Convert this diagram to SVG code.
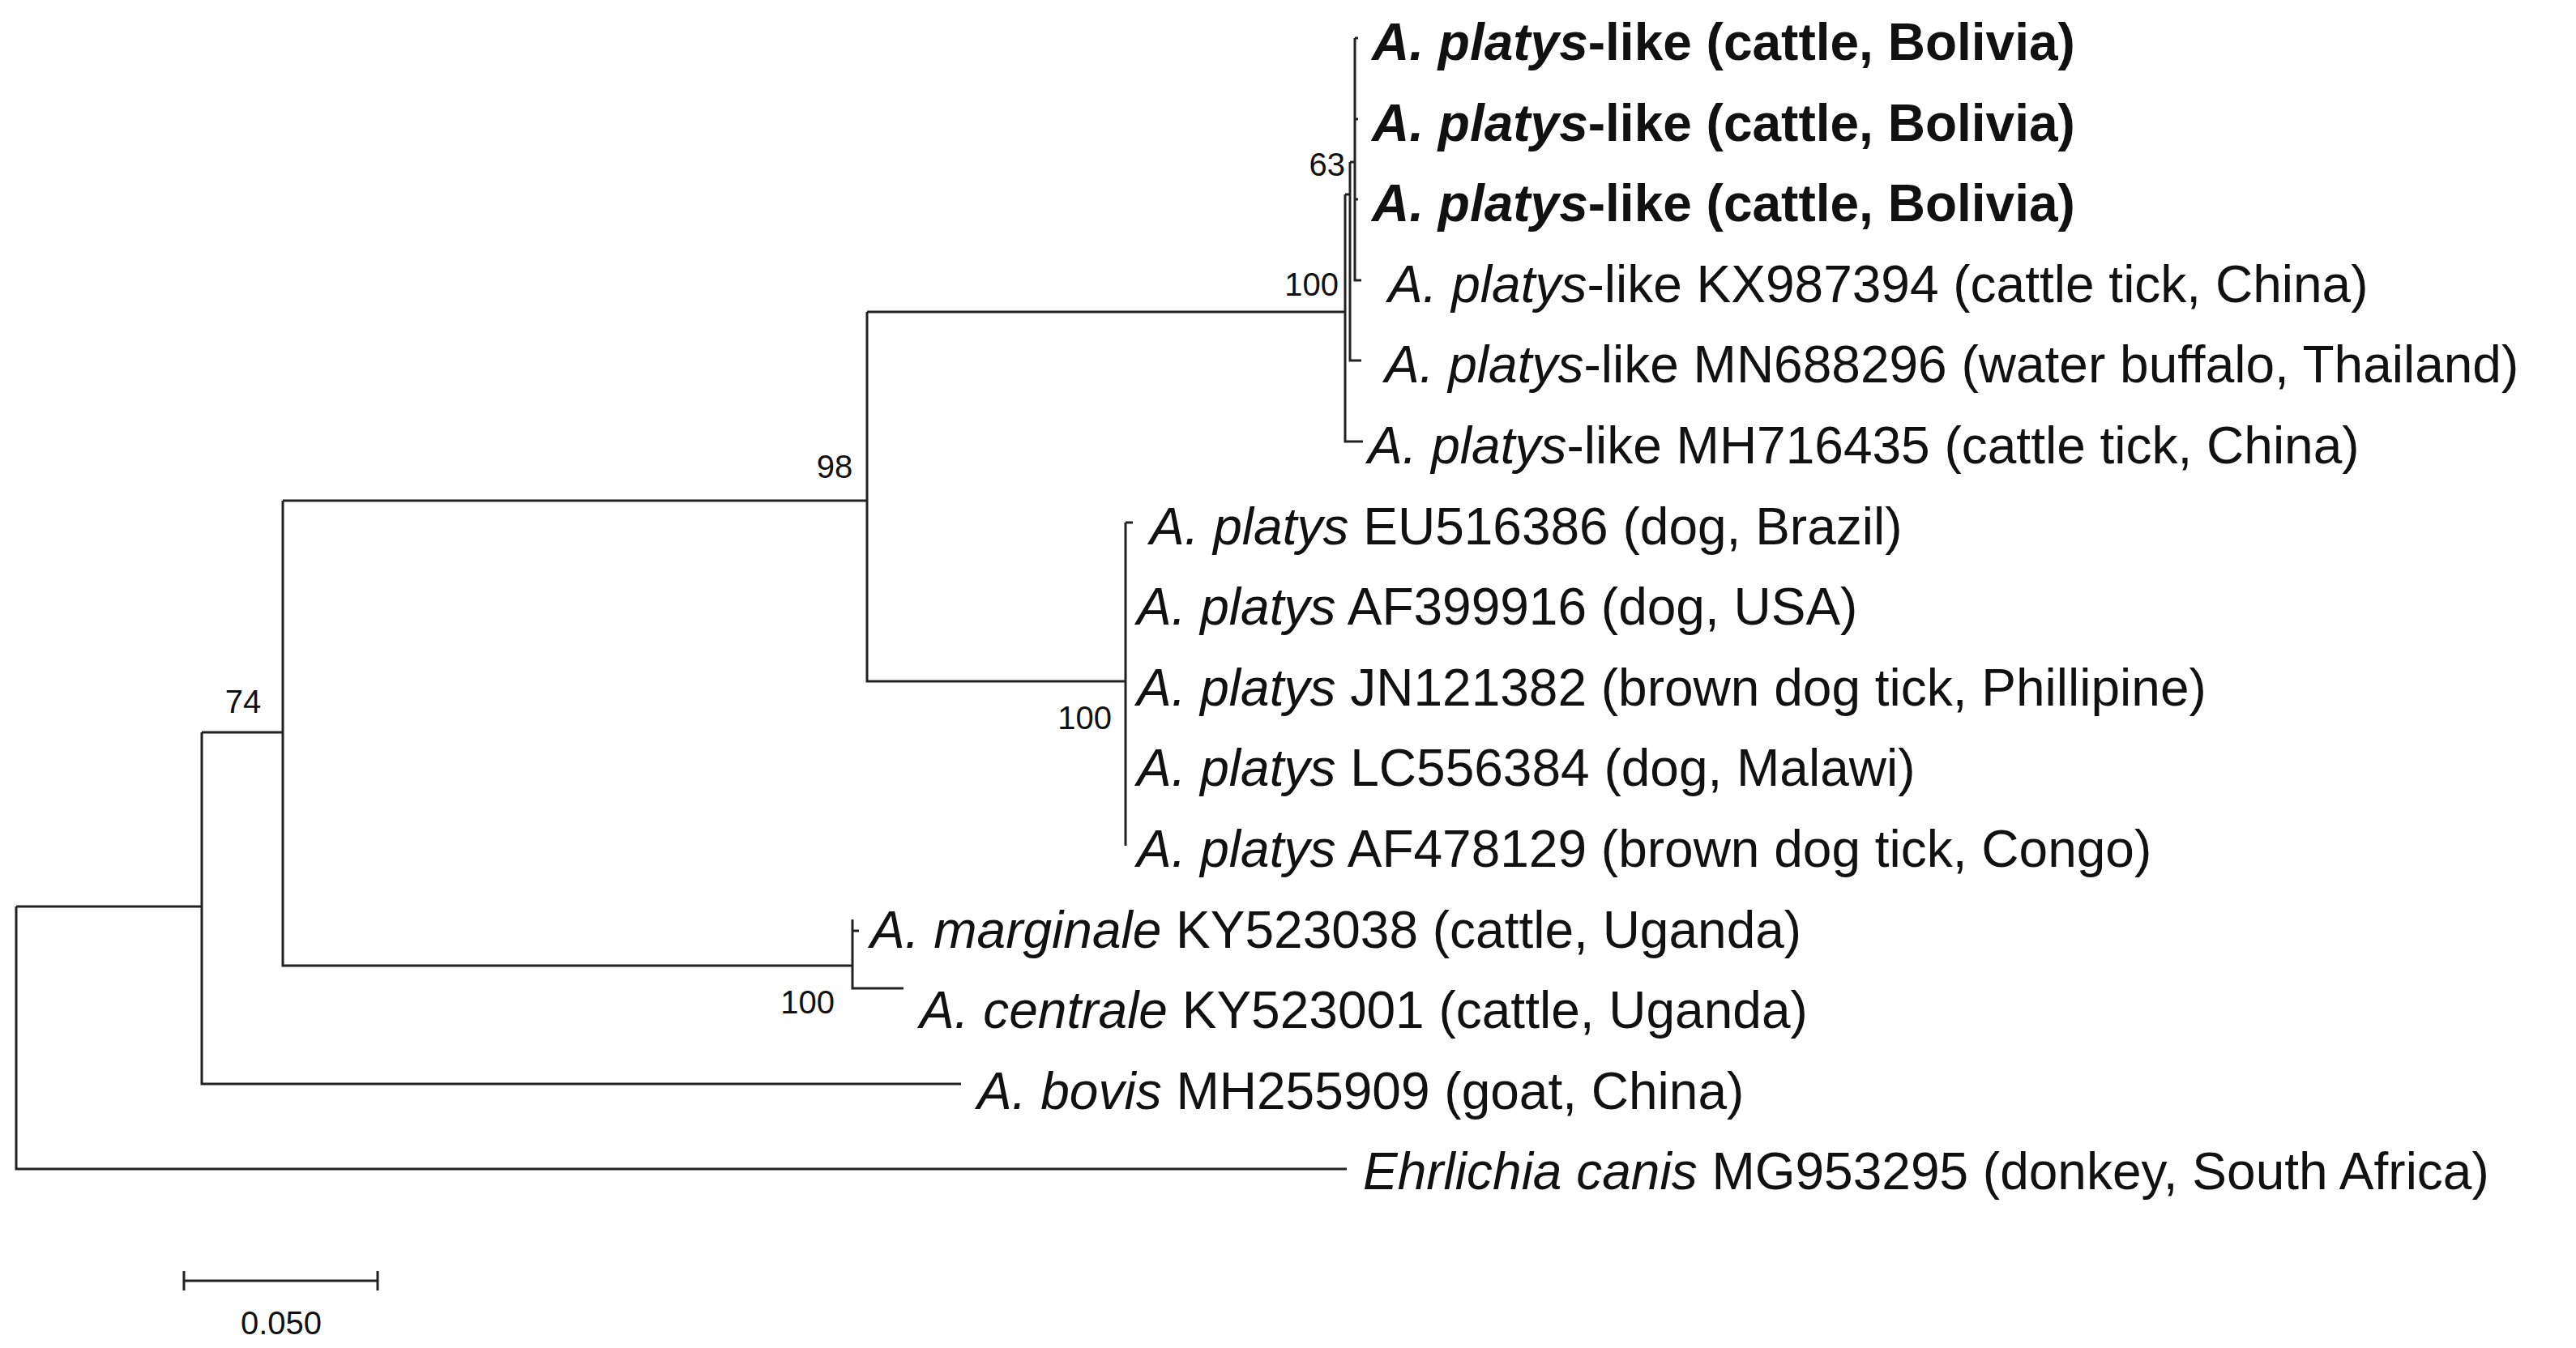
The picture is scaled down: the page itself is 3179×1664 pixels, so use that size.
<svg xmlns="http://www.w3.org/2000/svg" width="3179" height="1664" viewBox="0 0 3179 1664">
<style>
text{font-family:"Liberation Sans",Arial,sans-serif;fill:#111}
.t{font-size:64px}
.b{font-weight:bold}
.bs{font-size:40px}
line,path{stroke:#222;stroke-width:3;fill:none}
</style>
<rect width="3179" height="1664" fill="#fff"/>
<g id="connectors">
<path d="M20,1119 V1443 H1662"/>
<path d="M20,1119 H249"/>
<path d="M249,904 V1338 H1186"/>
<path d="M249,904 H349"/>
<path d="M349,618 V1192 H1052"/>
<path d="M349,618 H1070"/>
<path d="M1070,385 V841 H1389"/>
<path d="M1070,385 H1660"/>
<path d="M1660,240 V545 H1682"/>
<path d="M1660,240 H1666"/>
<path d="M1666,200 V445 H1680"/>
<path d="M1666,200 H1672"/>
<path d="M1672,47 V346 H1680"/>
<path d="M1672,47 H1676 M1672,147 H1676 M1672,246 H1676"/>
<path d="M1389,645 V1044 M1389,645 H1398"/>
<path d="M1052,1135 V1220 H1115 M1052,1149 H1060"/>
<path d="M227,1581 H466 M227,1569 V1593 M466,1569 V1593"/>
</g>
<g id="labels">
<text class="t b" x="1693" y="74"><tspan font-style="italic">A. platys</tspan>-like (cattle, Bolivia)</text>
<text class="t b" x="1693" y="174"><tspan font-style="italic">A. platys</tspan>-like (cattle, Bolivia)</text>
<text class="t b" x="1693" y="273"><tspan font-style="italic">A. platys</tspan>-like (cattle, Bolivia)</text>
<text class="t" x="1713" y="373"><tspan font-style="italic">A. platys</tspan>-like KX987394 (cattle tick, China)</text>
<text class="t" x="1709" y="472"><tspan font-style="italic">A. platys</tspan>-like MN688296 (water buffalo, Thailand)</text>
<text class="t" x="1688" y="572"><tspan font-style="italic">A. platys</tspan>-like MH716435 (cattle tick, China)</text>
<text class="t" x="1419" y="672"><tspan font-style="italic">A. platys</tspan> EU516386 (dog, Brazil)</text>
<text class="t" x="1403" y="771"><tspan font-style="italic">A. platys</tspan> AF399916 (dog, USA)</text>
<text class="t" x="1403" y="871"><tspan font-style="italic">A. platys</tspan> JN121382 (brown dog tick, Phillipine)</text>
<text class="t" x="1403" y="970"><tspan font-style="italic">A. platys</tspan> LC556384 (dog, Malawi)</text>
<text class="t" x="1403" y="1070"><tspan font-style="italic">A. platys</tspan> AF478129 (brown dog tick, Congo)</text>
<text class="t" x="1074" y="1170"><tspan font-style="italic">A. marginale</tspan> KY523038 (cattle, Uganda)</text>
<text class="t" x="1135" y="1269"><tspan font-style="italic">A. centrale</tspan> KY523001 (cattle, Uganda)</text>
<text class="t" x="1206" y="1369"><tspan font-style="italic">A. bovis</tspan> MH255909 (goat, China)</text>
<text class="t" x="1682" y="1468"><tspan font-style="italic">Ehrlichia canis</tspan> MG953295 (donkey, South Africa)</text>
</g>
<g id="bootstrap">
<text class="bs" x="1660" y="217" text-anchor="end">63</text>
<text class="bs" x="1652" y="365" text-anchor="end">100</text>
<text class="bs" x="1030" y="590" text-anchor="middle">98</text>
<text class="bs" x="1372" y="900" text-anchor="end">100</text>
<text class="bs" x="300" y="880" text-anchor="middle">74</text>
<text class="bs" x="1030" y="1251" text-anchor="end">100</text>
<text class="bs" x="347" y="1647" text-anchor="middle" font-size="44">0.050</text>
</g>
</svg>
